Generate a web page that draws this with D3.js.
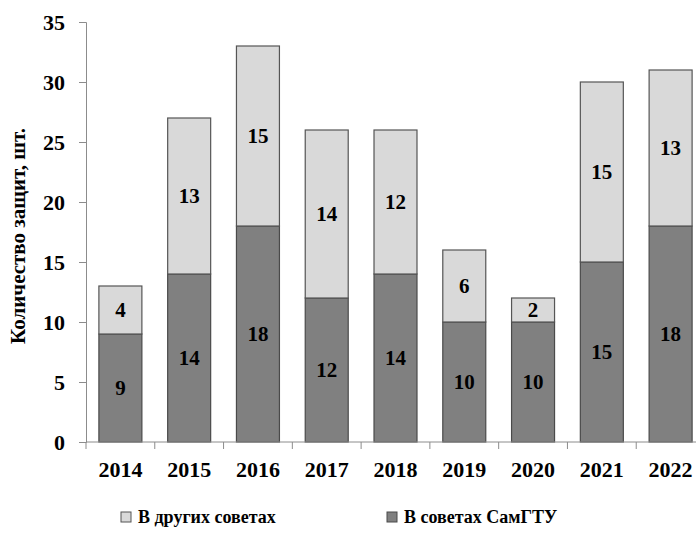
<!DOCTYPE html>
<html><head><meta charset="utf-8">
<script src="https://cdn.jsdelivr.net/npm/d3@7"></script>
<style>body{margin:0;background:#fff}svg{display:block}
svg text{font-family:"Liberation Serif","Times New Roman",serif;font-weight:bold;fill:#000}</style>
</head><body>
<svg id="c" width="696" height="553"></svg>
<script>
const years = ["2014","2015","2016","2017","2018","2019","2020","2021","2022"];
const samgtu = [9,14,18,12,14,10,10,15,18];
const others = [4,13,15,14,12,6,2,15,13];
const yTicks = [0,5,10,15,20,25,30,35];
const seriesNames = ["В других советах","В советах СамГТУ"];

const svg = d3.select("#c");
const x = d3.scaleBand().domain(years).range([86,705]).paddingInner(0.375).paddingOuter(0.1875);
const y = d3.scaleLinear().domain([0,35]).range([442,22]);

// y axis
const gy = svg.append("g").attr("transform","translate(86,0)")
  .call(d3.axisLeft(y).tickValues(yTicks).tickSize(7).tickPadding(14));
gy.select(".domain").attr("stroke","#8c8c8c");
gy.selectAll(".tick line").attr("stroke","#8c8c8c");
gy.selectAll("text").attr("font-family",null).style("font-size","22px");

const data = years.map((yr,i)=>({yr, a:samgtu[i], b:others[i]}));

// bars
const g = svg.append("g");
data.forEach(d=>{
  g.append("rect").attr("x",x(d.yr)).attr("width",x.bandwidth())
    .attr("y",y(d.a)).attr("height",y(0)-y(d.a))
    .attr("fill","#808080").attr("stroke","#4a4a4a").attr("stroke-width",1.2);
  g.append("rect").attr("x",x(d.yr)).attr("width",x.bandwidth())
    .attr("y",y(d.a+d.b)).attr("height",y(d.a)-y(d.a+d.b))
    .attr("fill","#d9d9d9").attr("stroke","#555").attr("stroke-width",1.2);
  g.append("text").attr("x",x(d.yr)+x.bandwidth()/2).attr("y",(y(0)+y(d.a))/2)
    .attr("dy","0.35em").attr("text-anchor","middle").style("font-size","21px").text(d.a);
  g.append("text").attr("x",x(d.yr)+x.bandwidth()/2).attr("y",(y(d.a)+y(d.a+d.b))/2)
    .attr("dy","0.35em").attr("text-anchor","middle").style("font-size","21px").text(d.b);
});

// x axis
const gx = svg.append("g").attr("transform","translate(0,442)");
gx.append("line").attr("x1",86).attr("x2",696).attr("y1",0).attr("y2",0).attr("stroke","#8c8c8c");
const step = x.step();
for(let i=0;i<=years.length;i++){
  const tx = 86 + i*step;
  if (tx<=696) gx.append("line").attr("x1",tx).attr("x2",tx).attr("y1",0).attr("y2",7).attr("stroke","#8c8c8c");
}
years.forEach(yr=>{
  gx.append("text").attr("x",x(yr)+x.bandwidth()/2).attr("y",35).attr("text-anchor","middle")
    .style("font-size","22px").text(yr);
});

// y label
svg.append("text").attr("transform","translate(25,236) rotate(-90)").attr("text-anchor","middle")
  .style("font-size","21px").text("Количество защит, шт.");

// legend
const leg = [{name:seriesNames[0],fill:"#d9d9d9",stroke:"#555",x:121},{name:seriesNames[1],fill:"#808080",stroke:"#4a4a4a",x:387}];
leg.forEach(l=>{
  svg.append("rect").attr("x",l.x).attr("y",512).attr("width",10).attr("height",10)
    .attr("fill",l.fill).attr("stroke",l.stroke);
  svg.append("text").attr("x",l.x+17).attr("y",523).style("font-size","18px").text(l.name);
});
</script>
</body></html>
